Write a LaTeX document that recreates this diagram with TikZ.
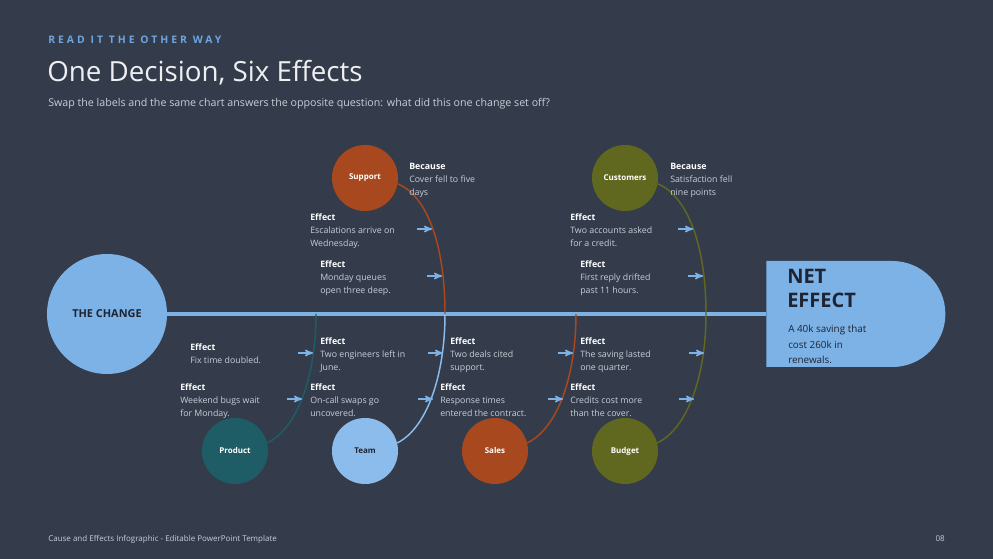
\documentclass[tikz,border=0pt]{standalone}
\usepackage{fontspec}
\setmainfont{Open Sans}
\newfontfamily\kickerfont[LetterSpace=29]{Open Sans}
\usetikzlibrary{arrows,positioning,shapes.misc}

\definecolor{bg}{RGB}{52,60,75}
\definecolor{spine}{RGB}{125,178,230}
\definecolor{paleblue}{RGB}{140,188,236}
\definecolor{rust}{RGB}{168,72,30}
\definecolor{olive}{RGB}{96,104,32}
\definecolor{deepteal}{RGB}{30,92,102}
\definecolor{bodytext}{RGB}{200,206,216}
\definecolor{kicker}{RGB}{110,165,225}
\definecolor{ink}{RGB}{30,36,50}

\begin{document}
\begin{tikzpicture}[x=0.75pt,y=-0.75pt,>=stealth',
    cause/.style={circle,minimum size=49.5pt,inner sep=0pt,
      font=\bfseries\fontsize{6}{7}\selectfont,text=white},
    branch/.style={line width=1.1pt},
    effarrow/.style={->,spine,line width=1.1pt},
    note/.style={anchor=north west,inner sep=0pt,align=left,
      font=\fontsize{6.6}{9.6}\selectfont,text=bodytext}]

  % background and frame
  \fill[bg] (0,0) rectangle (993,559);
  \useasboundingbox (0,0) rectangle (993,559);

  % header
  \node[anchor=west,inner sep=0pt,text=kicker,font=\kickerfont\bfseries\fontsize{7.8}{9}\selectfont] (kick) at (48,40) {READ IT THE OTHER WAY};
  \node[anchor=west,inner sep=0pt,text=white!92!bg,font=\fontsize{20.8}{24}\selectfont] (title) at (47,73) {One Decision, Six Effects};
  \node[anchor=west,inner sep=0pt,text=bodytext,font=\fontsize{8}{9}\selectfont] (sub) at (48,104) {Swap the labels and the same chart answers the opposite question: what did this one change set off?};

  % head and tail of the spine
  \node[circle,fill=spine,minimum size=90pt,inner sep=0pt,text=ink,
        font=\bfseries\fontsize{8.2}{9}\selectfont] (change) at (107,314) {THE CHANGE};
  \node[rounded rectangle,rounded rectangle west arc=none,fill=spine,
        minimum width=141pt,minimum height=79.5pt,anchor=west] (net) at (766,314) {};
  \draw[spine,line width=3.4pt] (change.east) -- (net.west);

  \node[anchor=north west,inner sep=0pt,align=left,text=ink,
        font=\bfseries\fontsize{15}{18}\selectfont] (nettitle) at (787,269) {NET\\EFFECT};
  \node[anchor=north west,inner sep=0pt,align=left,text=ink,
        font=\fontsize{7.4}{11.6}\selectfont] (nettext) at (788,325) {A 40k saving that\\cost 260k in\\renewals.};

  % causes
  \node[cause,fill=rust] (support) at (365,178) {Support};
  \node[cause,fill=olive] (customers) at (625,178) {Customers};
  \node[cause,fill=deepteal] (product) at (235,451) {Product};
  \node[cause,fill=paleblue,text=ink] (team) at (365,451) {Team};
  \node[cause,fill=rust] (sales) at (495,451) {Sales};
  \node[cause,fill=olive] (budget) at (625,451) {Budget};

  % where the branches meet the spine
  \coordinate (j1) at (316,314);
  \coordinate (j2) at (445,314);
  \coordinate (j3) at (576,314);
  \coordinate (j4) at (706,314);

  \draw[branch,rust] (support.-10) .. controls (425,195) and (445,240) .. (j2);
  \draw[branch,olive] (customers.-10) .. controls (685,195) and (706,240) .. (j4);
  \draw[branch,deepteal] (j1) .. controls (316,375) and (298,428) .. (product.14);
  \draw[branch,paleblue] (j2) .. controls (445,375) and (427,428) .. (team.14);
  \draw[branch,rust] (j3) .. controls (576,375) and (558,428) .. (sales.14);
  \draw[branch,olive] (j4) .. controls (706,375) and (688,428) .. (budget.14);

  % arrow tips on the branches
  \foreach \n/\x/\y in {1/432/229,2/442/276,3/693/229,4/703/276,
                        5/313/353,6/302/399,7/443/353,8/433/399,
                        9/573/353,10/563/399,11/704/353,12/694/399}
    \coordinate (tip\n) at (\x,\y);
  \foreach \n in {1,...,12}
    \draw[effarrow] ([xshift=-11pt]tip\n) -- (tip\n);

  % texts
  \node[note] (sbec) at (409,163) {\textcolor{white}{\bfseries Because}\\Cover fell to five\\days};
  \node[note] (seff1) at (310,214) {\textcolor{white}{\bfseries Effect}\\Escalations arrive on\\Wednesday.};
  \node[note] (seff2) at (320,261) {\textcolor{white}{\bfseries Effect}\\Monday queues\\open three deep.};
  \node[note] (cbec) at (670,163) {\textcolor{white}{\bfseries Because}\\Satisfaction fell\\nine points};
  \node[note] (ceff1) at (570,214) {\textcolor{white}{\bfseries Effect}\\Two accounts asked\\for a credit.};
  \node[note] (ceff2) at (580,261) {\textcolor{white}{\bfseries Effect}\\First reply drifted\\past 11 hours.};

  \node[note] (peff1) at (190,344) {\textcolor{white}{\bfseries Effect}\\Fix time doubled.};
  \node[note] (peff2) at (180,384) {\textcolor{white}{\bfseries Effect}\\Weekend bugs wait\\for Monday.};
  \node[note] (teff1) at (320,338) {\textcolor{white}{\bfseries Effect}\\Two engineers left in\\June.};
  \node[note] (teff2) at (310,384) {\textcolor{white}{\bfseries Effect}\\On-call swaps go\\uncovered.};
  \node[note] (saeff1) at (450,338) {\textcolor{white}{\bfseries Effect}\\Two deals cited\\support.};
  \node[note] (saeff2) at (440,384) {\textcolor{white}{\bfseries Effect}\\Response times\\entered the contract.};
  \node[note] (beff1) at (580,338) {\textcolor{white}{\bfseries Effect}\\The saving lasted\\one quarter.};
  \node[note] (beff2) at (570,384) {\textcolor{white}{\bfseries Effect}\\Credits cost more\\than the cover.};

  % footer
  \node[anchor=west,inner sep=0pt,text=bodytext,font=\fontsize{6}{7}\selectfont] (foot) at (48,539) {Cause and Effects Infographic - Editable PowerPoint Template};
  \node[anchor=east,inner sep=0pt,text=bodytext,font=\fontsize{6}{7}\selectfont] (page) at (945,539) {08};
\end{tikzpicture}
\end{document}
